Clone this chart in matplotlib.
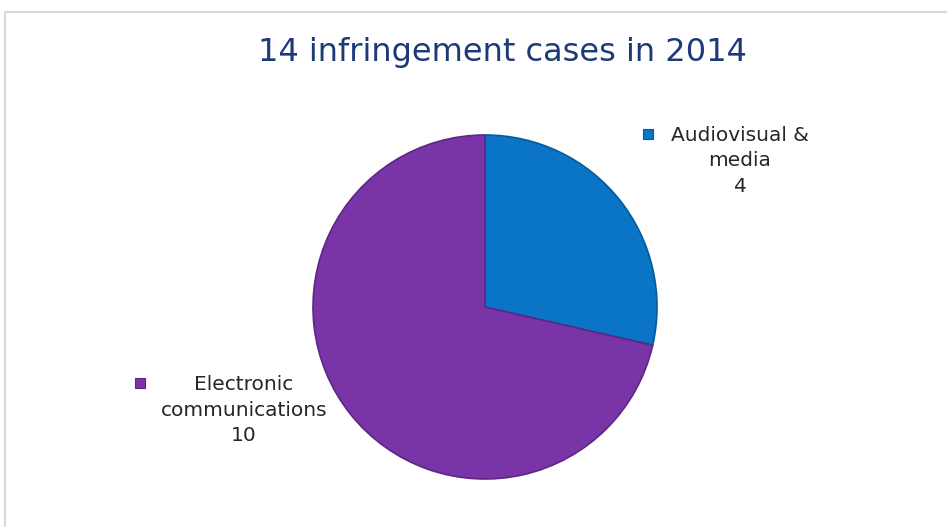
import matplotlib.pyplot as plt
from matplotlib.patches import Rectangle

# ---------------------------------------------------------------------------
# Data
# ---------------------------------------------------------------------------
categories = ["Audiovisual &\nmedia", "Electronic\ncommunications"]
cases = [4, 10]
colors = ["#0a74c6", "#7934a7"]
edge_colors = ["#075a9a", "#5e2585"]
title = "14 infringement cases in 2014"

W, H = 947, 527
fig = plt.figure(figsize=(W / 100, H / 100), dpi=100)
ax = fig.add_axes([0, 0, 1, 1])

# Chart frame (light grey, runs off the right / bottom edges)
ax.add_patch(Rectangle((4.5, -50), 1000, H - 11.5 + 50, fill=False,
                       edgecolor="#d9d9d9", linewidth=1.5))

wedges, _ = ax.pie(cases, colors=colors, startangle=90, counterclock=False,
                   center=(485, H - 307), radius=172, frame=True,
                   wedgeprops=dict(linewidth=1.2))
for w, ec in zip(wedges, edge_colors):
    w.set_edgecolor(ec)
ax.set_xlim(0, W)
ax.set_ylim(0, H)
ax.set_aspect("equal")
ax.axis("off")

ax.text(502, H - 52, title, ha="center", va="center",
        fontsize=23, color="#1c3a78")

# Data labels with legend keys
label_pos = [(740, H - 161, 648, H - 134), (244, H - 410, 140, H - 383)]
for cat, val, col, ec, (tx, ty, mx, my) in zip(categories, cases, colors,
                                               edge_colors, label_pos):
    ax.text(tx, ty, f"{cat}\n{val}", ha="center", va="center",
            fontsize=14.5, color="#262626", linespacing=1.45)
    ax.add_patch(Rectangle((mx - 5, my - 5), 10, 10, facecolor=col,
                           edgecolor=ec, linewidth=0.8))

fig.savefig("out.png", dpi=100, facecolor="white")
